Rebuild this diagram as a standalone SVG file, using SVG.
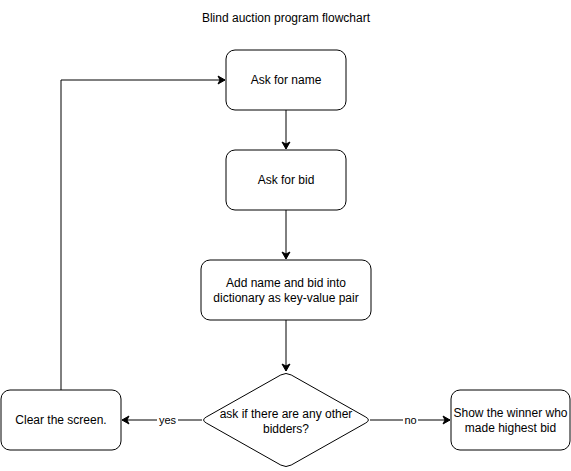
<svg xmlns="http://www.w3.org/2000/svg" width="571" height="471" viewBox="0 0 571 471">
<style>
.box{fill:#fff;stroke:#000;stroke-width:1}
.t{font-family:"Liberation Sans",Arial,sans-serif;font-size:12px;fill:#000;text-anchor:middle}
.lbl{font-family:"Liberation Sans",Arial,sans-serif;font-size:11px;fill:#000;text-anchor:middle}
.c{fill:none;stroke:#000;stroke-width:1}
</style>
<defs>
<marker id="ah" markerWidth="10" markerHeight="10" refX="8" refY="5" orient="auto" markerUnits="userSpaceOnUse">
<path d="M1,1 L8,5 L1,9 L3,5 Z" fill="#000" stroke="#000" stroke-width="1"/>
</marker>
</defs>
<rect width="571" height="471" fill="#fff"/>
<text class="t" x="286" y="22">Blind auction program flowchart</text>
<g id="connectors">
<path class="c" d="M286,110 V149" marker-end="url(#ah)"/>
<path class="c" d="M286,210 V259" marker-end="url(#ah)"/>
<path class="c" d="M286,320 V371" marker-end="url(#ah)"/>
<path class="c" d="M202,420 H122" marker-end="url(#ah)"/>
<path class="c" d="M370,420 H450" marker-end="url(#ah)"/>
<path class="c" d="M61,390 V80 H225" marker-end="url(#ah)"/>
<rect x="157" y="413" width="21" height="13" fill="#fff"/>
<text class="lbl" x="167.5" y="424">yes</text>
<rect x="403" y="413" width="15" height="13" fill="#fff"/>
<text class="lbl" x="410.5" y="424">no</text>
</g>
<g id="n_name">
<rect class="box" x="226" y="50" width="120" height="60" rx="9"/>
<text class="t" x="286" y="84">Ask for name</text>
</g>
<g id="n_bid">
<rect class="box" x="226" y="150" width="120" height="60" rx="9"/>
<text class="t" x="286" y="184">Ask for bid</text>
</g>
<g id="n_add">
<rect class="box" x="201" y="260" width="170" height="60" rx="9"/>
<text class="t" x="286" y="287">Add name and bid into</text>
<text class="t" x="286" y="302">dictionary as key-value pair</text>
</g>
<g id="n_ask">
<path class="box" d="M291.2,374.95 L365.8,417.05 Q371,420 365.8,422.95 L291.2,465.05 Q286,468 280.8,465.05 L206.2,422.95 Q201,420 206.2,417.05 L280.8,374.95 Q286,372 291.2,374.95 Z"/>
<text class="t" x="286" y="418">ask if there are any other</text>
<text class="t" x="286" y="433">bidders?</text>
</g>
<g id="n_clear">
<rect class="box" x="1" y="390" width="120" height="60" rx="9"/>
<text class="t" x="61" y="424">Clear the screen.</text>
</g>
<g id="n_winner">
<rect class="box" x="451" y="390" width="119" height="60" rx="9"/>
<text class="t" x="510.5" y="417">Show the winner who</text>
<text class="t" x="510.5" y="432">made highest bid</text>
</g>
</svg>
